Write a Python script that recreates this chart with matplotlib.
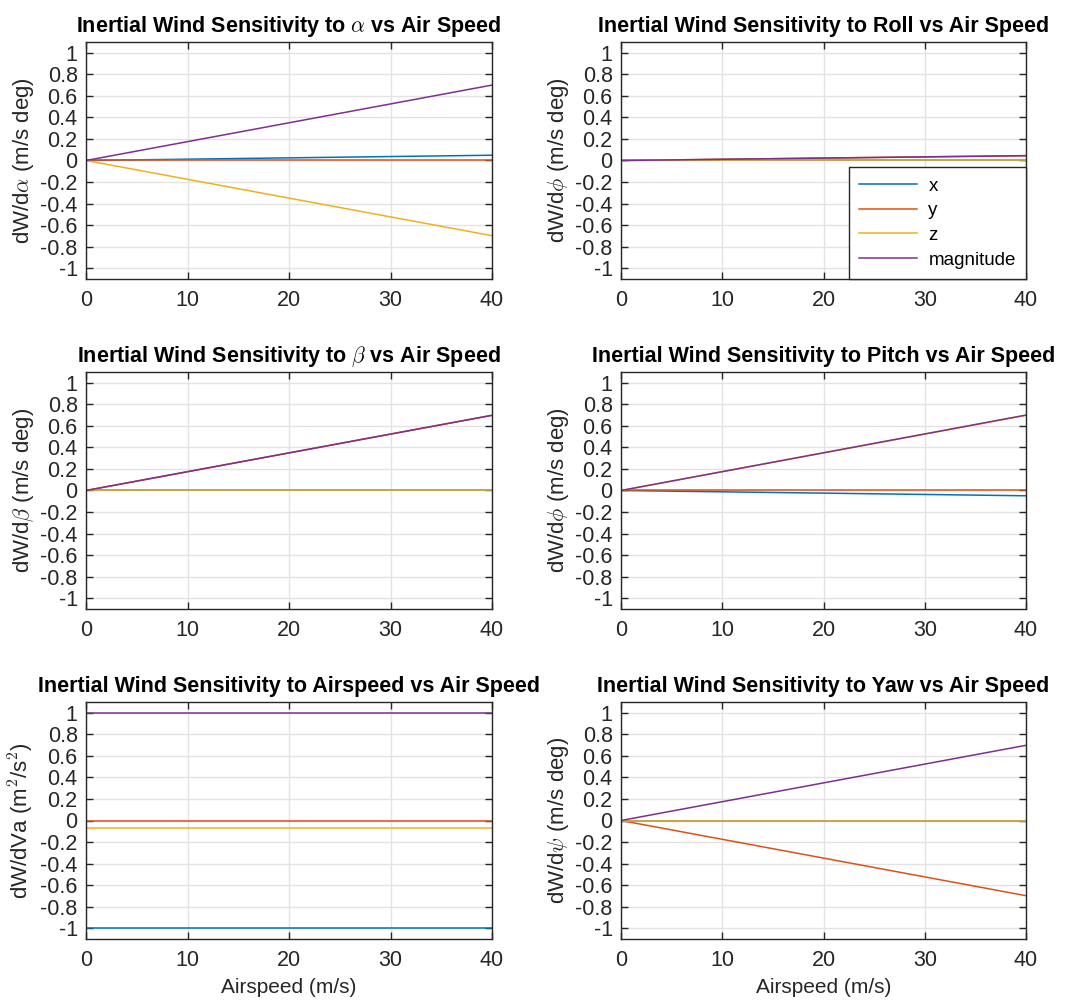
import matplotlib
matplotlib.use("Agg")
import matplotlib.pyplot as plt
from matplotlib.ticker import FuncFormatter

plt.rcParams['font.family'] = ['Liberation Sans', 'DejaVu Sans']
plt.rcParams['mathtext.fontset'] = 'cm'
plt.rcParams['axes.unicode_minus'] = False

# airspeed (m/s) at the two ends of each line
airspeed = [0, 40]

# sensitivity components (x, y, z, magnitude) at airspeed 0 and 40
alpha_x = [0, 0.049]
alpha_y = [0, 0]
alpha_z = [0, -0.698]
alpha_mag = [0, 0.70]

roll_x = [0, 0]
roll_y = [0, 0.045]
roll_z = [0, 0]
roll_mag = [0, 0.045]

beta_x = [0, 0]
beta_y = [0, 0.698]
beta_z = [0, 0]
beta_mag = [0, 0.698]

pitch_x = [0, -0.049]
pitch_y = [0, 0]
pitch_z = [0, 0.698]
pitch_mag = [0, 0.70]

va_x = [-0.998, -0.998]
va_y = [0, 0]
va_z = [-0.07, -0.07]
va_mag = [1, 1]

yaw_x = [0, 0]
yaw_y = [0, -0.698]
yaw_z = [0, 0]
yaw_mag = [0, 0.698]

titles = [r"Inertial Wind Sensitivity to $\alpha$ vs Air Speed",
          "Inertial Wind Sensitivity to Roll vs Air Speed",
          r"Inertial Wind Sensitivity to $\beta$ vs Air Speed",
          "Inertial Wind Sensitivity to Pitch vs Air Speed",
          "Inertial Wind Sensitivity to Airspeed vs Air Speed",
          "Inertial Wind Sensitivity to Yaw vs Air Speed"]
ylabels = [r"dW/d$\alpha$ (m/s deg)", r"dW/d$\phi$ (m/s deg)",
           r"dW/d$\beta$ (m/s deg)", r"dW/d$\phi$ (m/s deg)",
           r"dW/dVa (m$^2$/s$^2$)", r"dW/d$\psi$ (m/s deg)"]
series = [(alpha_x, alpha_y, alpha_z, alpha_mag),
          (roll_x, roll_y, roll_z, roll_mag),
          (beta_x, beta_y, beta_z, beta_mag),
          (pitch_x, pitch_y, pitch_z, pitch_mag),
          (va_x, va_y, va_z, va_mag),
          (yaw_x, yaw_y, yaw_z, yaw_mag)]
labels = ['x', 'y', 'z', 'magnitude']
colors = ['#0072BD', '#D95319', '#EDB120', '#7E2F8E']

W, H = 1077, 1002
fig = plt.figure(figsize=(W / 100, H / 100), dpi=100)

col_left = [86, 621]
col_width = [406, 405]
row_top = [42, 372, 702]
row_height = 237

axis_col = '#262626'
yticks = [-1, -0.8, -0.6, -0.4, -0.2, 0, 0.2, 0.4, 0.6, 0.8, 1]

for i in range(6):
    r, c = divmod(i, 2)
    rect = [col_left[c] / W, 1 - (row_top[r] + row_height) / H,
            col_width[c] / W, row_height / H]
    ax = fig.add_axes(rect)
    for vals, lab, col in zip(series[i], labels, colors):
        ax.plot(airspeed, vals, color=col, linewidth=1.1, label=lab)
    ax.set_xlim(0, 40)
    ax.set_ylim(-1.1, 1.1)
    ax.set_xticks([0, 10, 20, 30, 40])
    ax.set_yticks(yticks)
    ax.yaxis.set_major_formatter(FuncFormatter(lambda v, p: f"{v:g}"))
    ax.grid(True, color='#e3e3e3', linewidth=1.0)
    ax.set_axisbelow(True)
    ax.tick_params(direction='in', length=5, width=1.0, colors=axis_col,
                   labelsize=15.5, top=True, right=True)
    ax.tick_params(axis='x', pad=8)
    ax.tick_params(axis='y', pad=6)
    for s in ax.spines.values():
        s.set_color(axis_col)
        s.set_linewidth(1.0)
    ax.set_title(titles[i], fontsize=15.5, fontweight='bold', pad=7)
    ax.set_ylabel(ylabels[i], fontsize=16, color=axis_col, labelpad=3)
    if r == 2:
        ax.set_xlabel("Airspeed (m/s)", fontsize=15, color=axis_col, labelpad=5)
    if i == 1:
        leg = ax.legend(loc='lower right', borderaxespad=0, fontsize=13.5,
                        handlelength=3.1, fancybox=False, framealpha=1,
                        edgecolor=axis_col, labelspacing=0.4,
                        borderpad=0.55, handletextpad=0.6)
        leg.get_frame().set_linewidth(1.0)

plt.savefig("out.png", dpi=100)
